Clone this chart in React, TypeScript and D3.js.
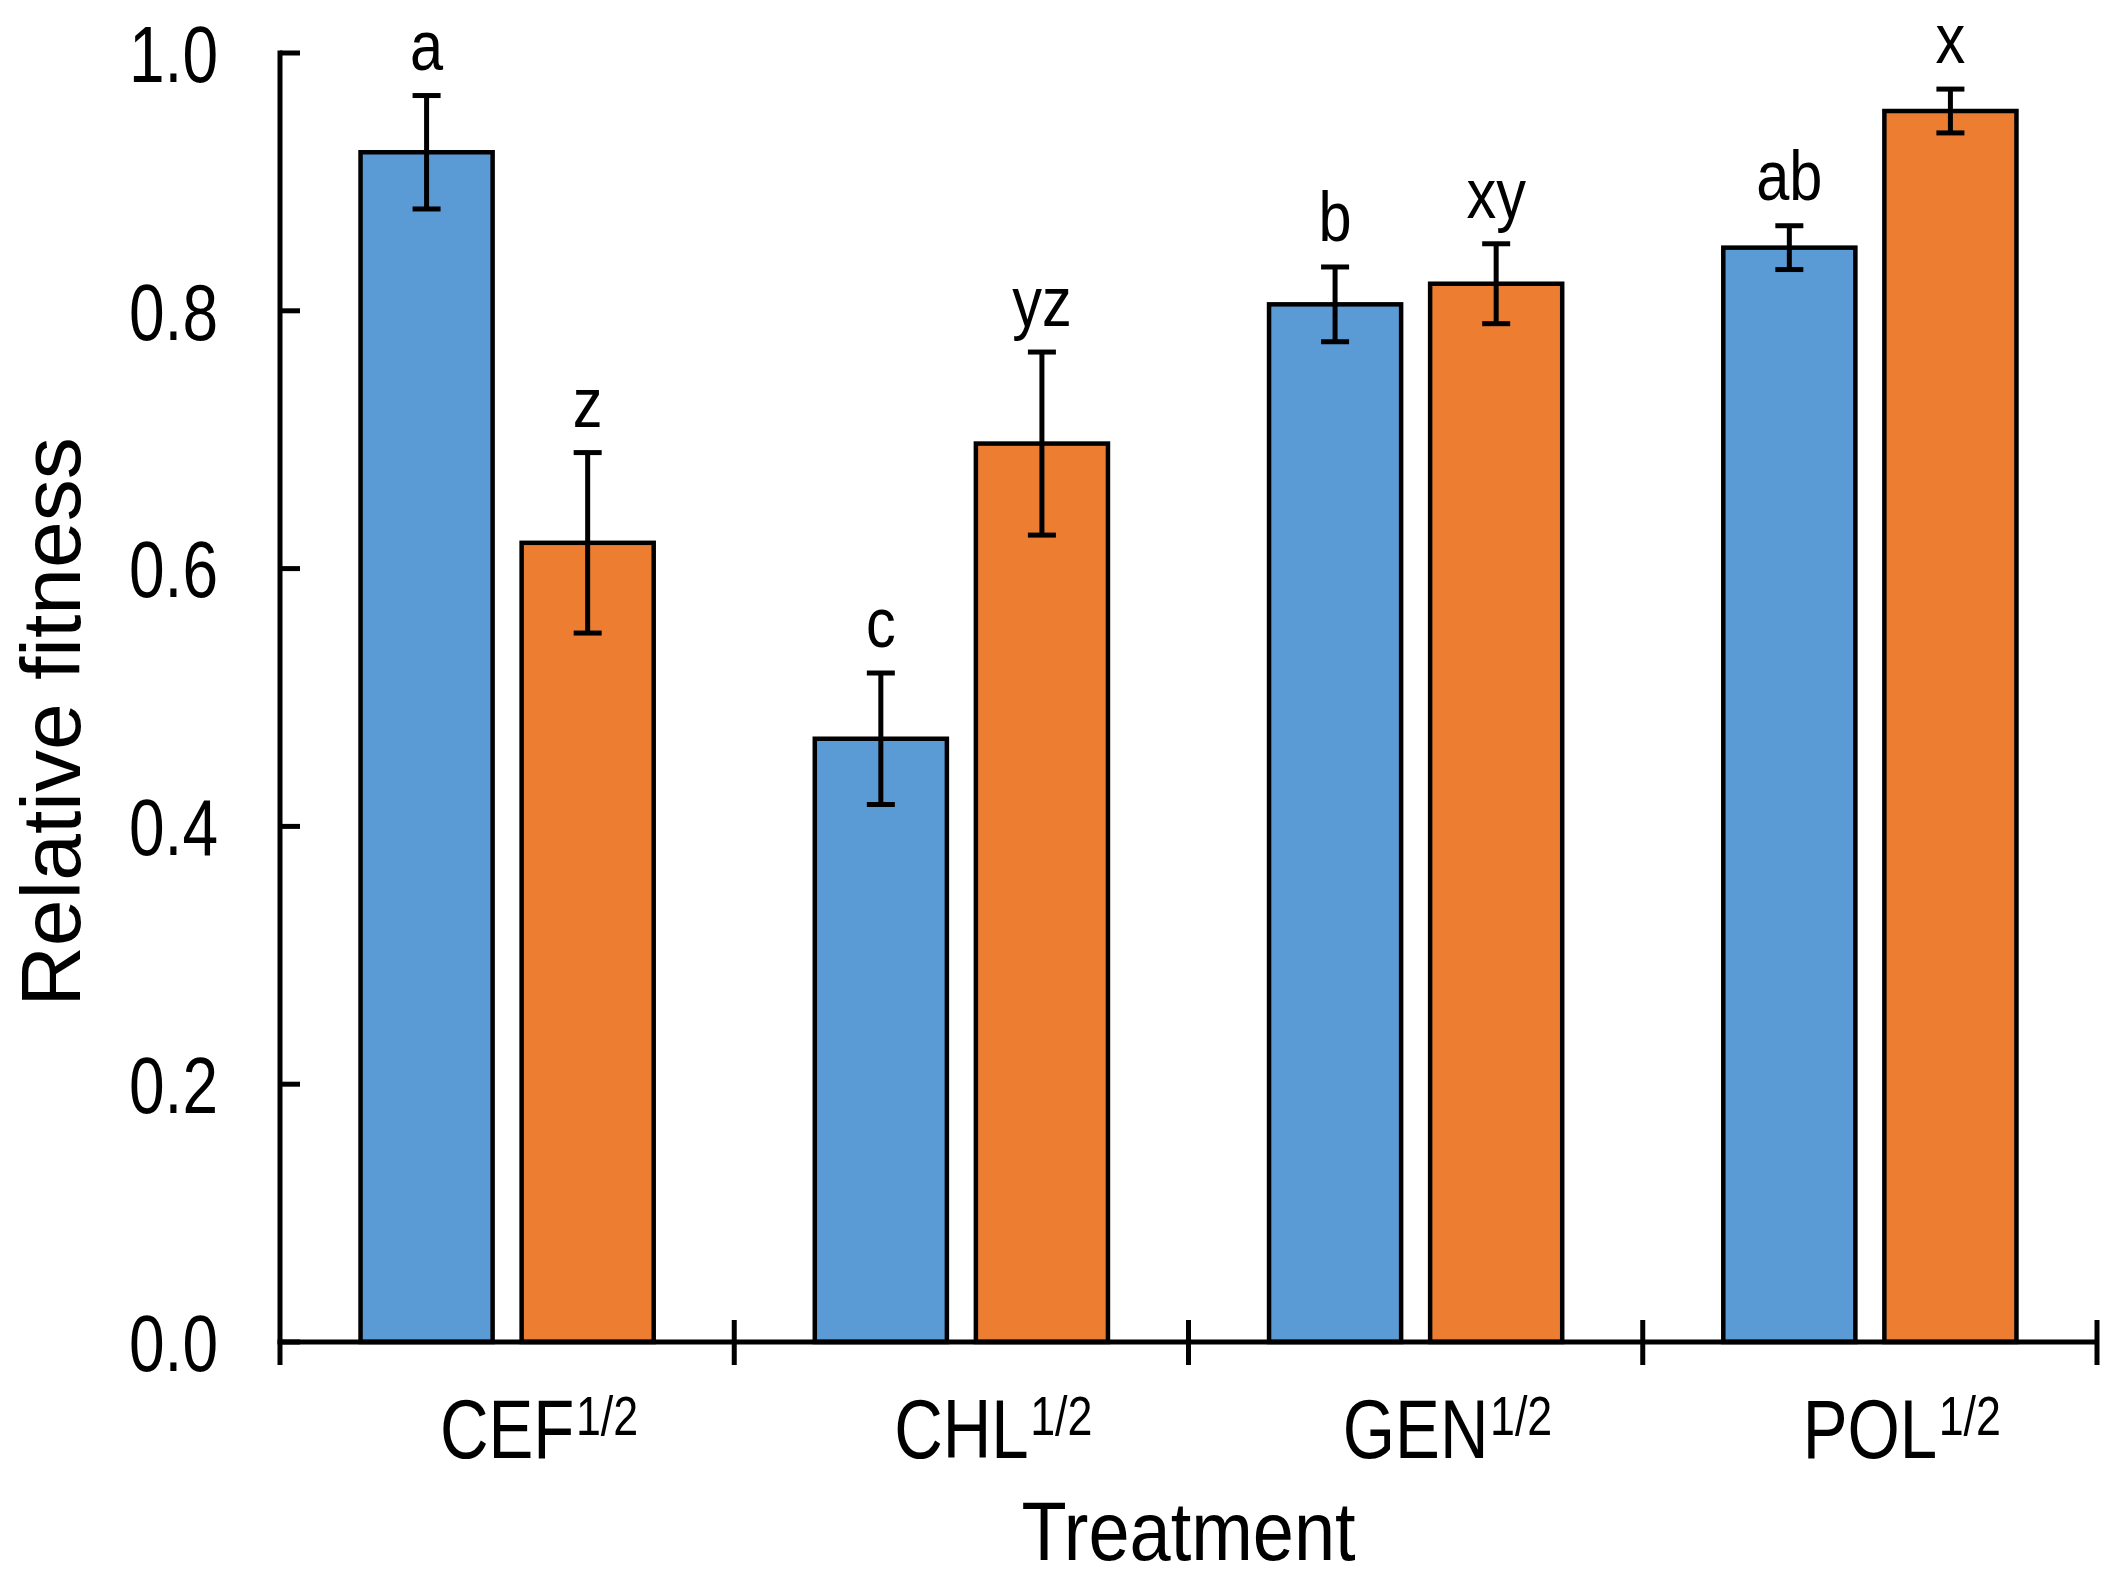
import React, { useEffect, useRef } from "react";
import * as d3 from "d3";

const categories = ["CEF", "CHL", "GEN", "POL"];
const series = ["blue", "orange"];
const blueMeans = [0.923, 0.468, 0.805, 0.849];
const blueErrors = [0.044, 0.051, 0.029, 0.017];
const orangeMeans = [0.62, 0.697, 0.821, 0.955];
const orangeErrors = [0.07, 0.071, 0.031, 0.017];
const blueLetters = ["a", "c", "b", "ab"];
const orangeLetters = ["z", "yz", "xy", "x"];
const yTicks = [0, 0.2, 0.4, 0.6, 0.8, 1.0];

const colors: Record<string, string> = {
  blue: "#5B9BD5",
  orange: "#ED7D31",
};

interface BarItem {
  cat: string;
  s: string;
  mean: number;
  se: number;
  letter: string;
}

const App: React.FC = () => {
  const svgRef = useRef<SVGSVGElement | null>(null);

  useEffect(() => {
    if (!svgRef.current) return;
    const svg = d3.select(svgRef.current);
    svg.selectAll("*").remove();

    const font = "'Liberation Sans', Arial, sans-serif";
    const squeeze = 0.8;
    const left = 280;
    const right = 2097;
    const top = 53;
    const bottom = 1342;

    const bars: BarItem[] = [];
    categories.forEach((c, i) => {
      bars.push({ cat: c, s: "blue", mean: blueMeans[i], se: blueErrors[i], letter: blueLetters[i] });
      bars.push({ cat: c, s: "orange", mean: orangeMeans[i], se: orangeErrors[i], letter: orangeLetters[i] });
    });

    const x0 = d3.scaleBand().domain(categories).range([left, right]);
    const x1 = d3
      .scaleBand()
      .domain(series)
      .range([0, x0.bandwidth()])
      .paddingInner(0.18)
      .paddingOuter(0.5);
    const y = d3.scaleLinear().domain([0, 1]).range([bottom, top]);

    const bx = (d: BarItem) => (x0(d.cat) || 0) + (x1(d.s) || 0);
    const cx = (d: BarItem) => bx(d) + x1.bandwidth() / 2;

    // bars
    svg
      .selectAll(".bar")
      .data(bars)
      .join("rect")
      .attr("class", "bar")
      .attr("x", bx)
      .attr("y", (d) => y(d.mean))
      .attr("width", x1.bandwidth())
      .attr("height", (d) => y(0) - y(d.mean))
      .attr("fill", (d) => colors[d.s])
      .attr("stroke", "#000")
      .attr("stroke-width", 4.5);

    // error bars
    const err = svg.append("g").attr("stroke", "#000").attr("stroke-width", 5);
    const cap = 14;
    bars.forEach((d) => {
      const c = cx(d);
      err.append("line").attr("x1", c).attr("x2", c).attr("y1", y(d.mean + d.se)).attr("y2", y(d.mean - d.se));
      err.append("line").attr("x1", c - cap).attr("x2", c + cap).attr("y1", y(d.mean + d.se)).attr("y2", y(d.mean + d.se));
      err.append("line").attr("x1", c - cap).attr("x2", c + cap).attr("y1", y(d.mean - d.se)).attr("y2", y(d.mean - d.se));
    });

    // significance letters
    svg
      .selectAll(".letter")
      .data(bars)
      .join("text")
      .attr("class", "letter")
      .attr("transform", (d) => `translate(${cx(d)},${y(d.mean + d.se) - 26}) scale(0.85,1)`)
      .attr("text-anchor", "middle")
      .attr("font-family", font)
      .attr("font-size", 70)
      .text((d) => d.letter);

    // y axis
    const axis = svg.append("g").attr("stroke", "#000").attr("stroke-width", 5);
    axis.append("line").attr("x1", left).attr("x2", left).attr("y1", y(1) - 2.5).attr("y2", y(0));
    yTicks.forEach((t) => {
      axis.append("line").attr("x1", left).attr("x2", left + 20).attr("y1", y(t)).attr("y2", y(t));
    });
    svg
      .selectAll(".ytick")
      .data(yTicks)
      .join("text")
      .attr("class", "ytick")
      .attr("transform", (d) => `translate(218,${y(d)}) scale(${squeeze},1)`)
      .attr("text-anchor", "end")
      .attr("dy", "0.36em")
      .attr("font-family", font)
      .attr("font-size", 80)
      .text((d) => d3.format(".1f")(d));

    // x axis
    axis.append("line").attr("x1", left - 2.5).attr("x2", right).attr("y1", y(0)).attr("y2", y(0));
    const bounds = [...categories.map((c) => x0(c) || 0), right];
    bounds.forEach((b, i) => {
      axis
        .append("line")
        .attr("x1", b)
        .attr("x2", b)
        .attr("y1", i === 0 ? y(0) : y(0) - 22)
        .attr("y2", y(0) + 23);
    });

    // category labels with superscript
    categories.forEach((c) => {
      const g = svg
        .append("g")
        .attr("transform", `translate(${(x0(c) || 0) + x0.bandwidth() / 2},1458) scale(${squeeze},1)`)
        .attr("font-family", font);
      const t = g.append("text").attr("text-anchor", "middle").attr("font-size", 84).text(c);
      const w = (t.node() as SVGTextElement).getComputedTextLength();
      g.append("text")
        .attr("x", w / 2 + 2)
        .attr("y", -23)
        .attr("font-size", 56)
        .text("1/2");
    });

    // axis titles
    svg
      .append("text")
      .attr("transform", `translate(${(left + right) / 2},1560) scale(0.88,1)`)
      .attr("text-anchor", "middle")
      .attr("font-family", font)
      .attr("font-size", 84)
      .text("Treatment");

    svg
      .append("text")
      .attr("transform", `translate(80,722) rotate(-90)`)
      .attr("text-anchor", "middle")
      .attr("font-family", font)
      .attr("font-size", 84)
      .text("Relative fitness");
  }, []);

  return (
    <svg
      ref={svgRef}
      width={2121}
      height={1592}
      style={{ position: "absolute", left: 0, top: 0, display: "block", background: "#fff" }}
    ></svg>
  );
};

export default App;
